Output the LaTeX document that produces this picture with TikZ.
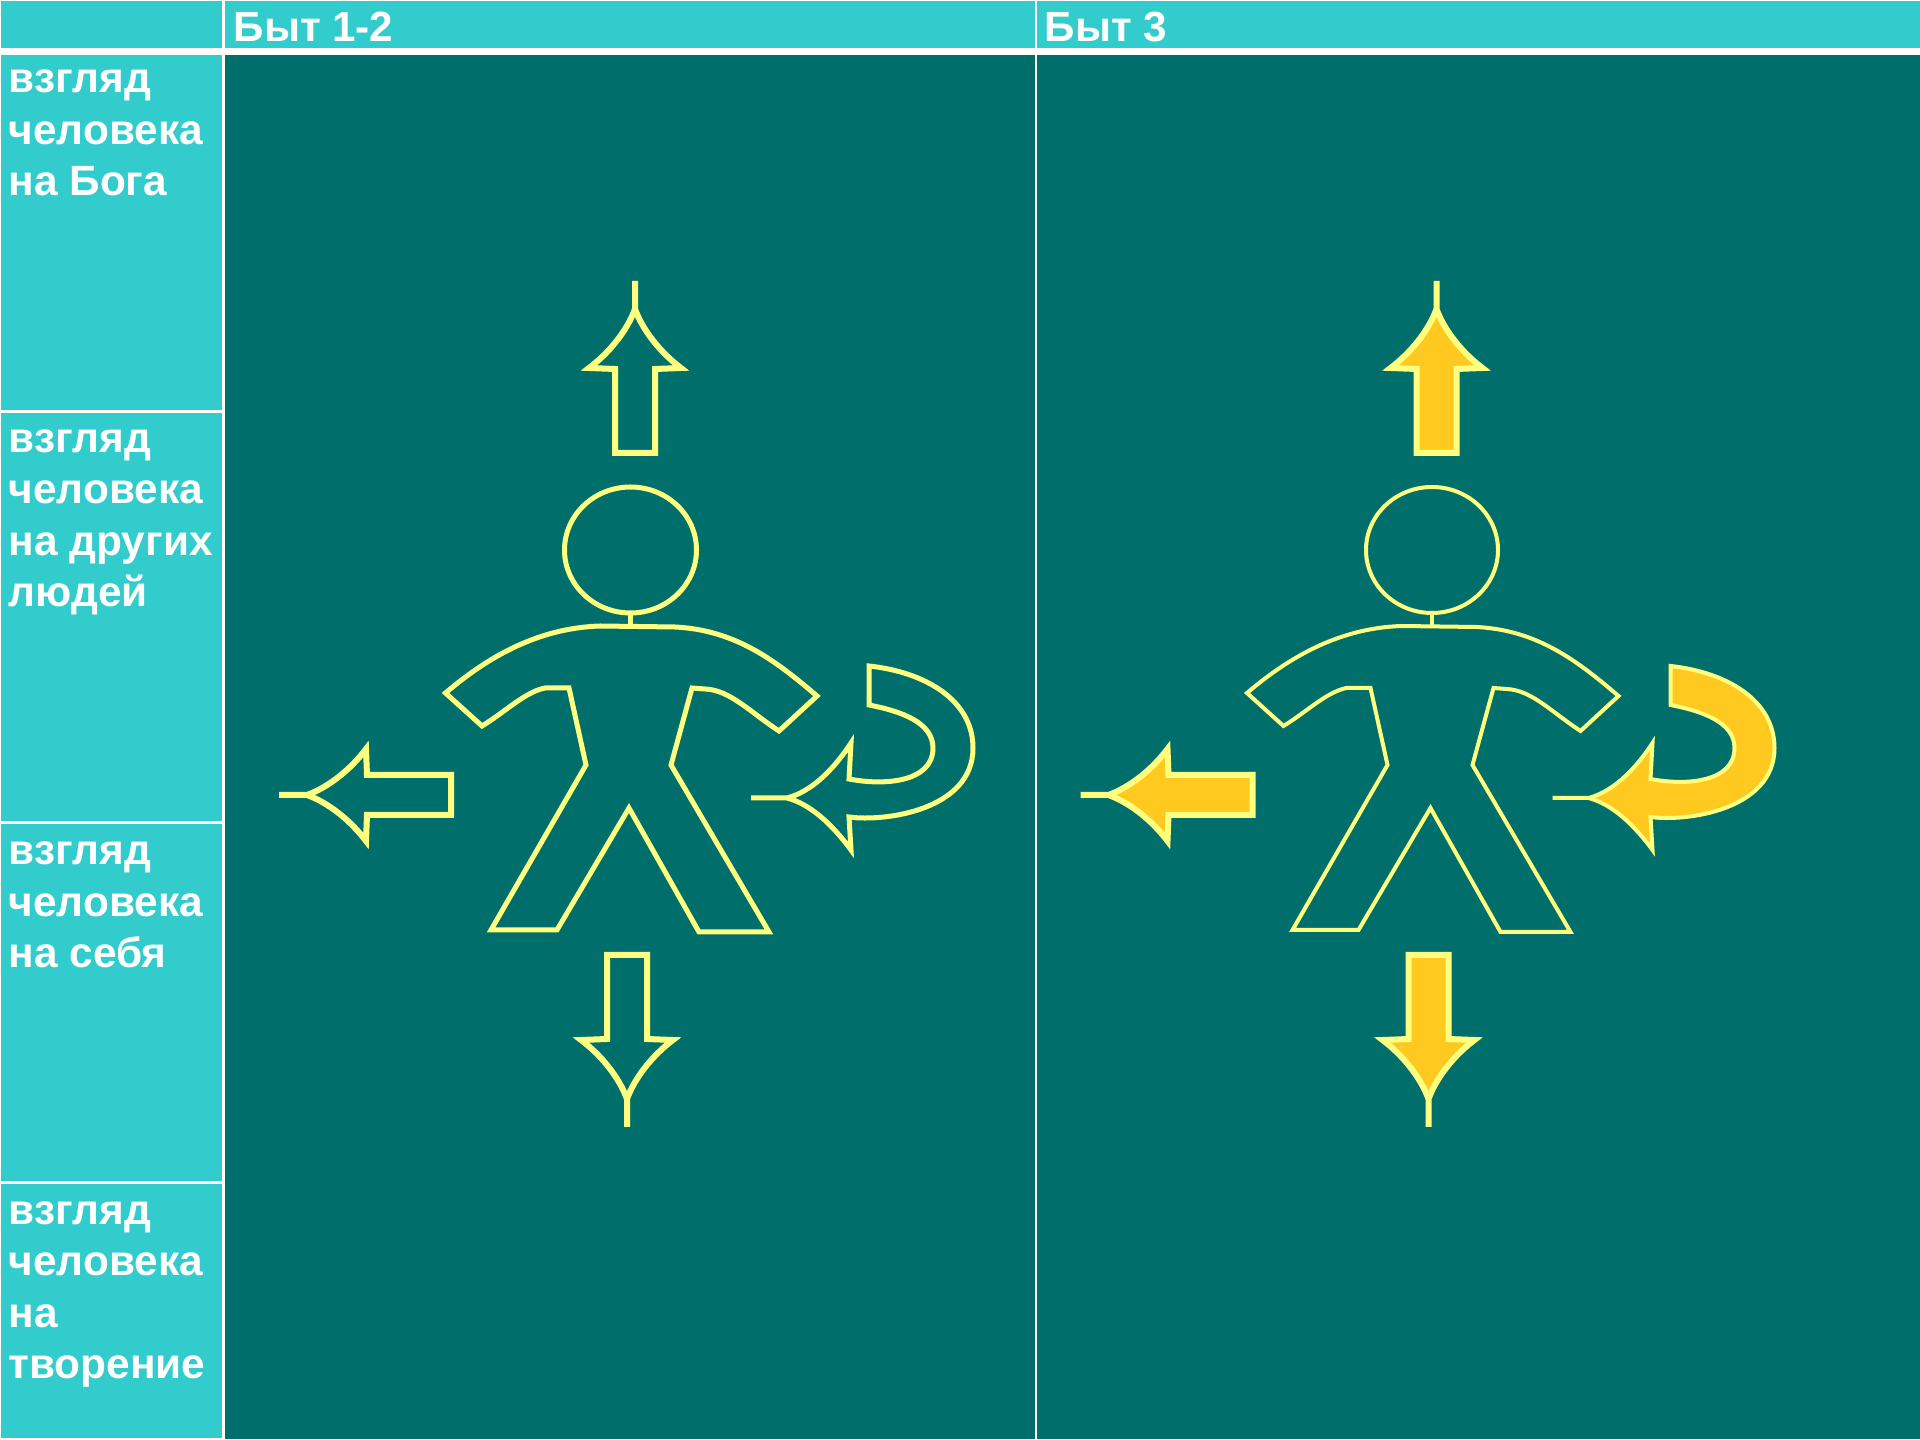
\documentclass[tikz,border=0pt]{standalone}
\usepackage{fontspec}
\setmainfont{Liberation Sans}
\definecolor{cellcyan}{HTML}{33CCCC}
\definecolor{cellteal}{HTML}{006F6B}
\definecolor{figyellow}{HTML}{FFFF80}
\definecolor{figgold}{HTML}{FFC91F}
\tikzset{
  cellbox/.style={fill=#1, draw=none, anchor=north west, inner sep=0pt, outer sep=0pt},
  cellbox/.default=cellcyan,
  sidetxt/.style={text=white, anchor=north west, align=left, inner sep=0pt,
    font=\fontsize{12.05}{14.65}\selectfont\bfseries},
  headtxt/.style={text=white, anchor=north west, inner sep=0pt,
    font=\fontsize{12}{14}\selectfont\bfseries},
  figline/.style={draw=figyellow, line width=.05cm, line join=miter, miter limit=4},
  arrowline/.style={figline, line width=.06cm}
}
% arrow with tip at #1, turned by #2, filled with #3
\newcommand{\lookarrow}[3]{\draw[arrowline,fill=#3,shift={#1},rotate=#2] (0,0) -- (28,0)
  .. controls (50,8) and (72,26) .. (87,46) -- (88,20) -- (172,20) -- (172,-20) -- (88,-20)
  -- (87,-46) .. controls (72,-26) and (50,-8) .. (28,0) -- cycle;}
\newcommand{\lookfigure}[3]{
  \begin{scope}[shift={(#1,0)}, figline/.append style={line width=#3}]
    \draw[figline] (630.5,550) ellipse (66 and 63);
    \draw[figline] (630.5,613) -- (630.5,626);
    \draw[figline] (445.5,693) .. controls (490,655) and (540,628) .. (600,626) -- (675,627)
      .. controls (735,630) and (775,660) .. (817,696) -- (779,731)
      .. controls (750,712) and (730,690) .. (705,689) -- (692,688) -- (671,765) -- (769,932)
      -- (699,932) -- (629,808) -- (557,930) -- (491,930) -- (586,765) -- (569,688) -- (545,688)
      .. controls (525,692) and (505,712) .. (482,726) -- cycle;
    \lookarrow{(635,281)}{-90}{#2}
    \lookarrow{(627,1127)}{90}{#2}
    \lookarrow{(279,795)}{0}{#2}
    \draw[figline,fill=#2] (751,798) -- (787,798) .. controls (810,804) and (832,824) .. (851,850)
      -- (849,817) .. controls (885,822) and (973,810) .. (973,748)
      .. controls (973,700) and (925,672) .. (869,666) -- (869,705)
      .. controls (900,711) and (933,722) .. (933,748)
      .. controls (933,782) and (885,786) .. (849,779) -- (851,743)
      .. controls (832,772) and (810,792) .. (787,798) -- cycle;
  \end{scope}
}

\begin{document}
\begin{tikzpicture}[x=.01cm, y=-.01cm]
  \useasboundingbox[fill=white] (0,0) rectangle (1920,1440);

  % head row
  \node[cellbox, minimum width=2.21cm, minimum height=.465cm] (corner) at (1,1) {};
  \node[cellbox, minimum width=8.095cm, minimum height=.465cm] (headA) at (225,1) {};
  \node[cellbox, minimum width=8.83cm, minimum height=.465cm] (headB) at (1037,1) {};
  \node[headtxt] (headAtxt) at (233,11) {Быт 1-2};
  \node[headtxt] (headBtxt) at (1044,11) {Быт 3};

  % dark panels
  \node[cellbox=cellteal, minimum width=8.095cm, minimum height=13.83cm] (panelA) at (225,55) {};
  \node[cellbox=cellteal, minimum width=8.83cm, minimum height=13.83cm] (panelB) at (1037,55) {};

  % side column
  \foreach \nm/\ytop/\hgt/\yoff/\txt in {
    rowA/55/3.55/.14/{взгляд\\человека\\на Бога},
    rowB/413/4.08/.155/{взгляд\\человека\\на других\\людей},
    rowC/824/3.57/.17/{взгляд\\человека\\на себя},
    rowD/1184/2.54/.165/{взгляд\\человека\\на\\творение}}{
    \node[cellbox, minimum width=2.21cm, minimum height=\hgt cm] (\nm) at (1,\ytop) {};
    \node[sidetxt] (\nm txt) at ([xshift=.07cm,yshift=-\yoff cm]\nm.north west) {\txt};
  }

  \lookfigure{0}{none}{.05cm}
  \lookfigure{801.5}{figgold}{.04cm}
\end{tikzpicture}
\end{document}
